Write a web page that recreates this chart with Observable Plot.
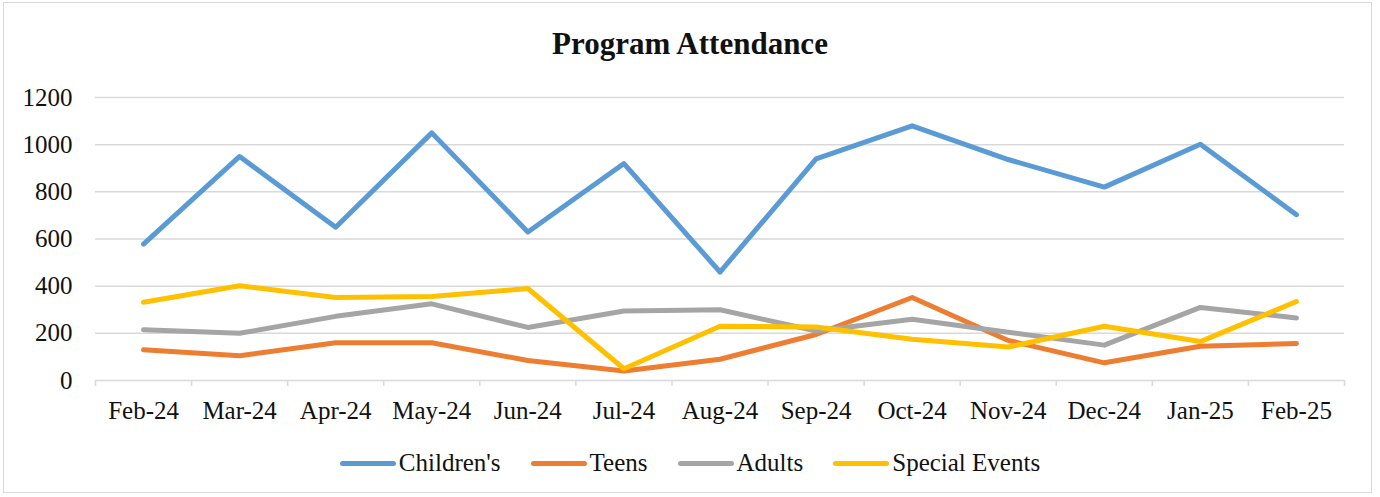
<!DOCTYPE html>
<html>
<head>
<meta charset="utf-8">
<script src="https://cdn.jsdelivr.net/npm/d3@7"></script>
<script src="https://cdn.jsdelivr.net/npm/@observablehq/plot@0.6"></script>
<style>
  html, body { margin: 0; padding: 0; background: #fff; }
  body { width: 1380px; height: 497px; position: relative; overflow: hidden; font-family: "Liberation Serif", serif; }
  #frame { position: absolute; left: 3px; top: 2px; width: 1369px; height: 491px; border: 1.5px solid #d9d9d9; box-sizing: border-box; }
  #title { position: absolute; left: 0; width: 1380px; top: 26px; text-align: center; font-family: "Liberation Serif", serif; font-size: 31px; font-weight: bold; color: #111; }
  #chart { position: absolute; left: 0; top: 70px; }
  #legend { position: absolute; left: 0; width: 1380px; top: 449px; display: flex; justify-content: center; gap: 30px; font-family: "Liberation Serif", serif; font-size: 25px; color: #111; }
  .item { display: flex; align-items: center; }
  .sw { display: inline-block; width: 56px; height: 5px; border-radius: 3px; margin-right: 3px; }
</style>
</head>
<body>
<div id="frame"></div>
<div id="title">Program Attendance</div>
<div id="chart"></div>
<div id="legend"></div>
<script>
const months = ["Feb-24","Mar-24","Apr-24","May-24","Jun-24","Jul-24","Aug-24","Sep-24","Oct-24","Nov-24","Dec-24","Jan-25","Feb-25"];
const seriesNames = ["Children's","Teens","Adults","Special Events"];
const seriesColors = ["#5b9bd5","#ed7d31","#a5a5a5","#ffc000"];
const childrens = [578, 950, 650, 1050, 630, 920, 460, 940, 1080, 937, 820, 1002, 703];
const teens = [130, 105, 160, 160, 85, 40, 90, 195, 352, 170, 75, 145, 157];
const adults = [215, 200, 272, 325, 225, 295, 300, 210, 260, 205, 150, 310, 265];
const specialEvents = [332, 402, 352, 356, 390, 50, 230, 227, 175, 142, 230, 165, 335];
const yTicks = [0, 200, 400, 600, 800, 1000, 1200];

const allSeries = [childrens, teens, adults, specialEvents];
const data = [];
allSeries.forEach((vals, s) => vals.forEach((v, i) => data.push({series: seriesNames[s], i, value: v})));

const boundaries = d3.range(months.length + 1).map(k => k - 0.5);

const chart = Plot.plot({
  width: 1380,
  height: 380,
  marginLeft: 95,
  marginRight: 36,
  marginTop: 27,
  marginBottom: 70,
  style: {fontFamily: "Liberation Serif", fontSize: "25px", color: "#111", background: "transparent"},
  x: {type: "linear", domain: [-0.5, months.length - 0.5], label: null},
  y: {domain: [0, 1200], label: null},
  color: {domain: seriesNames, range: seriesColors},
  marks: [
    Plot.ruleY(yTicks, {stroke: "#d9d9d9", strokeWidth: 1.5}),
    Plot.axisX({ticks: boundaries, tickSize: 6, tickFormat: () => "", stroke: "#d9d9d9", strokeWidth: 1.5, label: null}),
    Plot.axisX({ticks: d3.range(months.length), tickSize: 0, tickPadding: 21, tickFormat: i => months[i], fontSize: 25, fill: "#111", label: null}),
    Plot.axisY({ticks: yTicks, tickSize: 0, tickPadding: 23, tickFormat: d => String(d), fontSize: 25, fill: "#111", label: null}),
    Plot.line(data, {x: "i", y: "value", z: "series", stroke: "series", strokeWidth: 5, strokeLinecap: "round", strokeLinejoin: "round"})
  ]
});
document.getElementById("chart").appendChild(chart);

const legend = document.getElementById("legend");
seriesNames.forEach((name, k) => {
  const item = document.createElement("div");
  item.className = "item";
  const sw = document.createElement("span");
  sw.className = "sw";
  sw.style.background = seriesColors[k];
  const label = document.createElement("span");
  label.textContent = name;
  item.appendChild(sw);
  item.appendChild(label);
  legend.appendChild(item);
});
</script>
</body>
</html>
